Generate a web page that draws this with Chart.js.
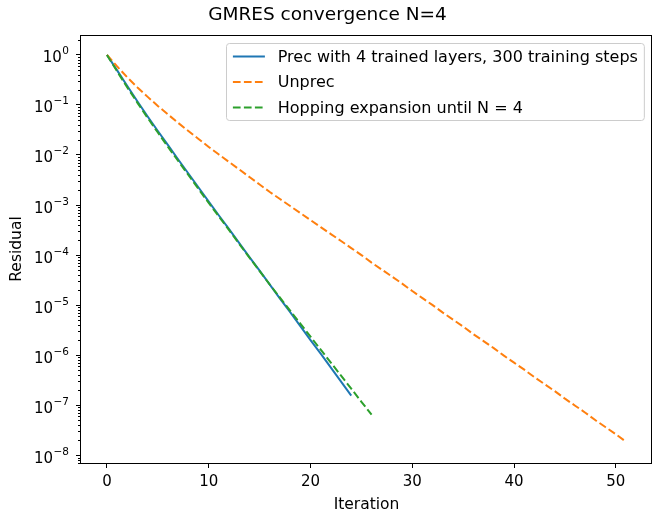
<!DOCTYPE html>
<html>
<head>
<meta charset="utf-8">
<script src="https://cdn.jsdelivr.net/npm/chart.js@4"></script>
<style>
  html, body { margin: 0; padding: 0; background: #fff; overflow: hidden; }
  #wrap { width: 652px; height: 512px; overflow: hidden; }
</style>
</head>
<body>
<div id="wrap"><canvas id="chart" width="652" height="512"></canvas></div>
<script>
// GMRES residual per iteration.
const seriesLabels = [
  "Prec with 4 trained layers, 300 training steps",
  "Unprec",
  "Hopping expansion until N = 4",
];

const precResidual = [
  1.0, 0.490, 0.240, 0.117, 0.0589, 0.0302, 0.0158, 8.13e-3, 4.27e-3, 2.24e-3,
  1.17e-3, 6.17e-4, 3.31e-4, 1.74e-4, 9.12e-5, 4.90e-5, 2.57e-5, 1.35e-5, 7.24e-6,
  3.80e-6, 2.00e-6, 1.07e-6, 5.62e-7, 2.95e-7, 1.55e-7,
];

const unprecResidual = [
  1.0, 0.589, 0.355, 0.224, 0.145, 0.0955, 0.0646, 0.0437, 0.0302, 0.0209,
  0.0145, 0.0102, 7.24e-3, 5.13e-3, 3.63e-3, 2.57e-3, 1.82e-3, 1.32e-3, 9.55e-4,
  6.92e-4, 5.01e-4, 3.63e-4, 2.63e-4, 1.91e-4, 1.38e-4, 1.00e-4, 7.08e-5, 5.13e-5,
  3.72e-5, 2.69e-5, 1.91e-5, 1.38e-5, 1.00e-5, 7.08e-6, 5.13e-6, 3.72e-6, 2.63e-6,
  1.91e-6, 1.38e-6, 9.77e-7, 7.08e-7, 5.13e-7, 3.63e-7, 2.63e-7, 1.91e-7, 1.35e-7,
  9.77e-8, 7.08e-8, 5.01e-8, 3.63e-8, 2.63e-8, 1.86e-8,
];

const hoppingResidual = [
  1.0, 0.468, 0.224, 0.110, 0.0550, 0.0282, 0.0145, 7.59e-3, 3.98e-3, 2.09e-3,
  1.10e-3, 5.89e-4, 3.16e-4, 1.66e-4, 8.91e-5, 4.79e-5, 2.57e-5, 1.41e-5, 7.76e-6,
  4.27e-6, 2.34e-6, 1.29e-6, 7.08e-7, 3.89e-7, 2.14e-7, 1.17e-7, 6.46e-8,
];

const xTicks = [0, 10, 20, 30, 40, 50];
const yMajorTicks = [1e-8, 1e-7, 1e-6, 1e-5, 1e-4, 1e-3, 1e-2, 1e-1, 1e0];
const yMinorSteps = [2, 3, 4, 5, 6, 7, 8, 9];

const FONT = "'DejaVu Sans', sans-serif";

function toPoints(values) {
  return values.map((v, i) => ({ x: i, y: v }));
}

function exponentText(v) {
  const e = Math.round(Math.log10(v));
  return (e < 0 ? "\u2212" : "") + Math.abs(e);
}

// axes frame, minor log ticks and 10^k labels (mathtext-like superscript)
const framePlugin = {
  id: "frame",
  afterDatasetsDraw(chart) {
    const { ctx, chartArea: a } = chart;
    const ys = chart.scales.y;
    ctx.save();
    ctx.strokeStyle = "#000";
    ctx.lineWidth = 1;
    ctx.beginPath();
    for (let k = -9; k <= 0; k++) {
      yMinorSteps.forEach((m) => {
        const v = m * Math.pow(10, k);
        if (v < ys.min || v > ys.max) return;
        const y = Math.round(ys.getPixelForValue(v)) + 0.5;
        ctx.moveTo(a.left - 3, y);
        ctx.lineTo(a.left, y);
      });
    }
    ctx.stroke();
    ctx.strokeRect(Math.round(a.left) - 0.5, Math.round(a.top) + 0.5,
      Math.round(a.right - a.left), Math.round(a.bottom - a.top));

    ctx.fillStyle = "#000";
    ctx.textBaseline = "alphabetic";
    ctx.textAlign = "left";
    const rightEdge = a.left - 12;
    yMajorTicks.forEach((v) => {
      const y = ys.getPixelForValue(v);
      const exp = exponentText(v);
      ctx.font = "10.5px " + FONT;
      const ew = ctx.measureText(exp).width;
      ctx.font = "15px " + FONT;
      const bw = ctx.measureText("10").width;
      const x0 = rightEdge - ew - bw - 0.5;
      ctx.fillText("10", x0, y + 7.5);
      ctx.font = "10.5px " + FONT;
      ctx.fillText(exp, x0 + bw + 0.5, y - 0.5);
    });
    ctx.restore();
  },
};

const legendPlugin = {
  id: "boxLegend",
  afterDraw(chart) {
    const { ctx, chartArea: a } = chart;
    const fs = 16;
    const items = chart.data.datasets;
    ctx.save();
    ctx.font = fs + "px " + FONT;
    const textW = Math.max(...items.map((d) => ctx.measureText(d.label).width));
    const pad = 0.4 * fs, handle = 2 * fs, gap = 0.8 * fs;
    const rowStep = 25.5, edge = 13;
    const w = pad * 2 + handle + gap + textW;
    const h = edge * 2 + rowStep * (items.length - 1);
    const right = a.right - 0.5 * fs;
    const left = Math.round(right - w) + 0.5;
    const top = Math.round(a.top + 8) + 0.5;
    ctx.beginPath();
    ctx.roundRect(left, top, w, h, 3);
    ctx.fillStyle = "rgba(255,255,255,0.8)";
    ctx.fill();
    ctx.strokeStyle = "#cccccc";
    ctx.lineWidth = 1;
    ctx.stroke();
    items.forEach((d, i) => {
      const y = top + edge + i * rowStep;
      ctx.beginPath();
      ctx.setLineDash(d.borderDash || []);
      ctx.strokeStyle = d.borderColor;
      ctx.lineWidth = d.borderWidth;
      ctx.moveTo(left + pad, y);
      ctx.lineTo(left + pad + handle, y);
      ctx.stroke();
      ctx.setLineDash([]);
      ctx.fillStyle = "#000";
      ctx.textBaseline = "middle";
      ctx.textAlign = "left";
      ctx.fillText(d.label, left + pad + handle + gap, y + 1);
    });
    ctx.restore();
  },
};

const dashed = [7.7, 3.3];

new Chart(document.getElementById("chart"), {
  type: "line",
  data: {
    datasets: [
      { label: seriesLabels[0], data: toPoints(precResidual), borderColor: "#1f77b4",
        borderWidth: 2, pointRadius: 0, tension: 0, order: 2 },
      { label: seriesLabels[1], data: toPoints(unprecResidual), borderColor: "#ff7f0e",
        borderWidth: 2, borderDash: dashed, pointRadius: 0, tension: 0, order: 1 },
      { label: seriesLabels[2], data: toPoints(hoppingResidual), borderColor: "#2ca02c",
        borderWidth: 2, borderDash: dashed, pointRadius: 0, tension: 0, order: 0 },
    ],
  },
  options: {
    responsive: false,
    animation: false,
    devicePixelRatio: 1,
    layout: { padding: { left: 0, right: -3, top: 0, bottom: 0 } },
    plugins: {
      legend: { display: false },
      tooltip: { enabled: false },
      title: {
        display: true,
        text: "GMRES convergence N=4",
        color: "#000",
        font: { family: FONT, size: 18.5, weight: "normal" },
        padding: { top: 4, bottom: 8.8 },
      },
    },
    scales: {
      x: {
        type: "linear",
        min: -2.55,
        max: 53.55,
        border: { display: false },
        grid: { drawOnChartArea: false, tickLength: 5, tickColor: "#000", tickWidth: 1 },
        ticks: { padding: 5, color: "#000", font: { family: FONT, size: 15 },
          callback: (v) => String(v) },
        afterBuildTicks: (s) => { s.ticks = xTicks.map((v) => ({ value: v })); },
        afterFit: (s) => { s.height = 49; },
        title: { display: true, text: "Iteration", color: "#000",
          font: { family: FONT, size: 15.5, lineHeight: 1 }, padding: { top: 0, bottom: -1 } },
      },
      y: {
        type: "logarithmic",
        min: 7.46e-9,
        max: 2.5,
        border: { display: false },
        grid: { drawOnChartArea: false, tickLength: 5, tickColor: "#000", tickWidth: 1 },
        ticks: { padding: 5, callback: () => "" },
        afterBuildTicks: (s) => { s.ticks = yMajorTicks.map((v) => ({ value: v })); },
        afterFit: (s) => { s.width = 81; },
        title: { display: true, text: "Residual", color: "#000",
          font: { family: FONT, size: 15.5, lineHeight: 1 }, padding: { top: 9, bottom: 0 } },
      },
    },
  },
  plugins: [framePlugin, legendPlugin],
});
</script>
</body>
</html>
